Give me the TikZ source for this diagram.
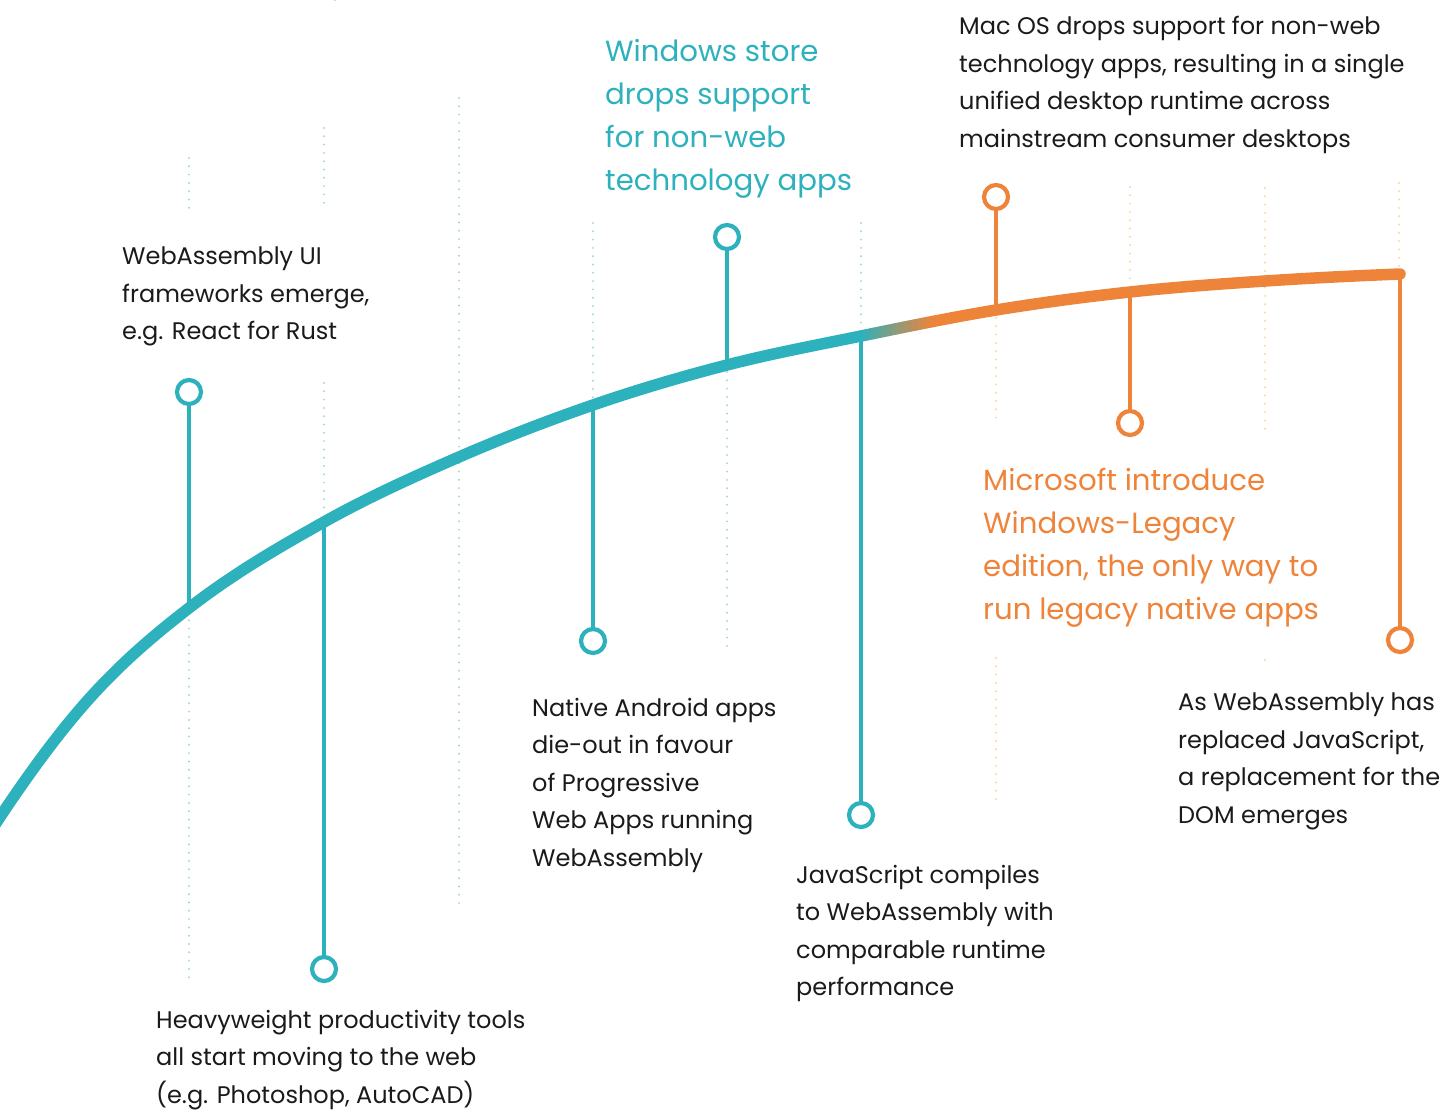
\documentclass[tikz,border=0pt]{standalone}
\usepackage{fontspec}
\setmainfont{Poppins}
\usetikzlibrary{calc}
\definecolor{tlTeal}{HTML}{2DB1BC}
\definecolor{tlOrange}{HTML}{EE843A}
\definecolor{tlTealDot}{HTML}{A6D7DB}
\definecolor{tlOrangeDot}{HTML}{FCD79C}
\definecolor{tlText}{HTML}{1A1A1A}
% the timeline curve (piecewise cubic), shared by every colour band
\def\tlcurve{(-30,862) -- (0,817)
  .. controls (29.33,773.0) and (58.67,732.85) .. (88,700)
  .. controls (121.67,662.3) and (155.33,634.06) .. (189,608)
  .. controls (234,573.2) and (279,547.2) .. (324,522)
  .. controls (369,496.8) and (414,476.6) .. (459,457)
  .. controls (503.67,437.6) and (548.33,420.4) .. (593,405)
  .. controls (637.67,389.6) and (682.33,376.5) .. (727,365)
  .. controls (771.67,353.5) and (816.33,345.2) .. (861,336)
  .. controls (906,326.8) and (951,317.4) .. (996,310)
  .. controls (1040.67,302.7) and (1085.33,296.8) .. (1130,292)
  .. controls (1175,287.1) and (1220,284.0) .. (1265,281)
  .. controls (1310,278.0) and (1355,275.8) .. (1400,274)}
\begin{document}
\begin{tikzpicture}[x=1pt,y=-1pt,
  guideT/.style={tlTealDot,line width=2.2pt,line cap=round,dash pattern=on 0pt off 8.3pt},
  guideO/.style={guideT,tlOrangeDot},
  curveline/.style={line width=11.5pt,line cap=round},
  stemT/.style={tlTeal,line width=4.5pt},
  stemO/.style={stemT,tlOrange},
  dotT/.style={circle,draw=tlTeal,fill=white,line width=4.2pt,minimum size=24pt,inner sep=0pt},
  dotO/.style={dotT,draw=tlOrange},
  body/.style={anchor=north west,align=left,inner sep=0pt,text=tlText,font=\fontsize{24}{37.5}\selectfont},
  headT/.style={anchor=north west,align=left,inner sep=0pt,text=tlTeal,font=\fontsize{29.2}{43}\selectfont},
  headO/.style={headT,text=tlOrange}]
\useasboundingbox (0,0) rectangle (1450,1111);
\clip (0,0) rectangle (1450,1111);

% column guides
\foreach \x/\a/\b in {189/158/208, 189/612/978, 324/128/203, 324/383/515, 459/98/910,
                      593/223/400, 727/372/650, 861/223/330, 335/0/2}
  \draw[guideT] (\x,\a) -- (\x,\b);
\foreach \x/\a/\b in {996/318/425, 996/658/806, 1130/187/282, 1265/188/430, 1265/660/662, 1399/183/268}
  \draw[guideO] (\x,\a) -- (\x,\b);

% curve: teal, blended, orange
\begin{scope}
  \clip (-40,0) rectangle (861,1111);
  \draw[curveline,tlTeal] \tlcurve;
\end{scope}
\foreach \i in {0,...,23}{
  \pgfmathsetmacro{\pct}{100*(\i+0.5)/24}
  \begin{scope}
    \clip ({861+3*\i-0.3},0) rectangle ({861+3*(\i+1)+0.3},1111);
    \draw[curveline,tlOrange!\pct!tlTeal] \tlcurve;
  \end{scope}
}
\begin{scope}
  \clip (933,0) rectangle (1450,1111);
  \draw[curveline,tlOrange] \tlcurve;
\end{scope}

% points on the curve
\coordinate (p1) at (189,608);
\coordinate (p2) at (324,522);
\coordinate (p3) at (593,405);
\coordinate (p4) at (727,365);
\coordinate (p5) at (861,336);
\coordinate (p6) at (996,310);
\coordinate (p7) at (1130,292);
\coordinate (p8) at (1400,274);

% event markers
\node[dotT] (m1) at (189,392) {};
\node[dotT] (m2) at (324,969) {};
\node[dotT] (m3) at (593,641) {};
\node[dotT] (m4) at (727,237) {};
\node[dotT] (m5) at (861,815) {};
\node[dotO] (m6) at (996,197) {};
\node[dotO] (m7) at (1130,423) {};
\node[dotO] (m8) at (1400,640) {};
\draw[stemT] (m1) -- (p1);
\draw[stemT] (m2) -- (p2);
\draw[stemT] (m3) -- (p3);
\draw[stemT] (m4) -- (p4);
\draw[stemT] (m5) -- (p5);
\draw[stemO] (m6) -- (p6);
\draw[stemO] (m7) -- (p7);
\draw[stemO] (m8) -- (p8);

% labels
\node[body] (t1) at (122,247) {WebAssembly UI\\frameworks emerge,\\e.g. React for Rust};
\node[body] (t2) at (156,1010) {Heavyweight productivity tools\\all start moving to the web\\(e.g. Photoshop, AutoCAD)};
\node[body] (t3) at (532,698) {Native Android apps\\die-out in favour\\of Progressive\\Web Apps running\\WebAssembly};
\node[headT] (t4) at (605,39) {Windows store\\drops support\\for non-web\\technology apps};
\node[body] (t5) at (796,865) {JavaScript compiles\\to WebAssembly with\\comparable runtime\\performance};
\node[body] (t6) at (959,16) {Mac OS drops support for non-web\\technology apps, resulting in a single\\unified desktop runtime across\\mainstream consumer desktops};
\node[headO] (t7) at (983,468) {Microsoft introduce\\Windows-Legacy\\edition, the only way to\\run legacy native apps};
\node[body] (t8) at (1178,693) {As WebAssembly has\\replaced JavaScript,\\a replacement for the\\DOM emerges};
\end{tikzpicture}
\end{document}
